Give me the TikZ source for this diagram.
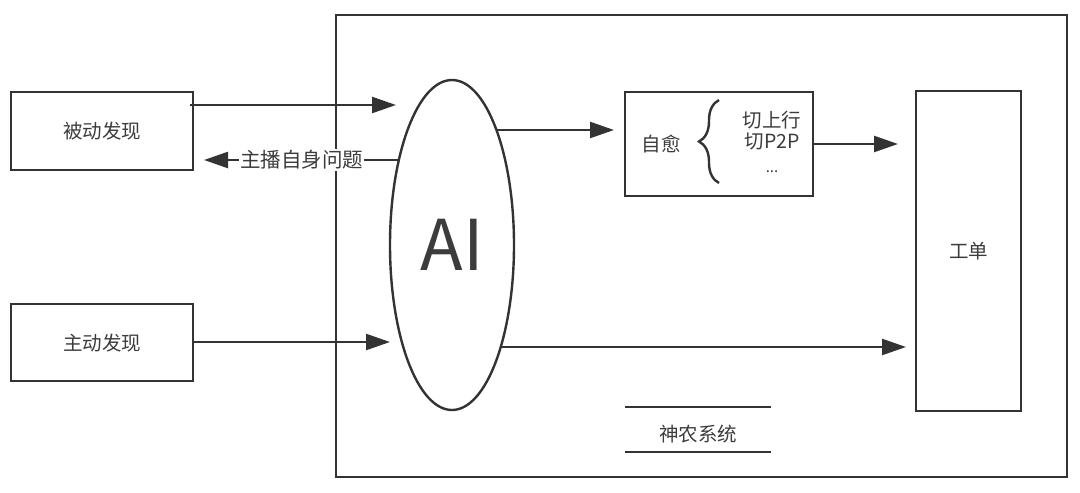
\documentclass[tikz,border=0pt]{standalone}
\usepackage{fontspec}
\setmainfont{Noto Sans CJK SC}
\usetikzlibrary{arrows.meta,decorations.pathreplacing,shapes.geometric}
\definecolor{ink}{HTML}{333333}
\definecolor{txt}{HTML}{3C3C3C}
\tikzset{
  box/.style={draw=ink,line width=2.4pt,fill=white,inner sep=0pt,text=txt,font=\fontsize{19.5}{22}\selectfont},
  arr/.style={draw=ink,line width=2.4pt,-{Triangle[length=24pt,width=16pt]}},
  lbl/.style={fill=white,text=txt,inner sep=1pt,font=\fontsize{20.5}{22}\selectfont},
  plain/.style={text=txt,font=\fontsize{19.5}{22}\selectfont},
}
\begin{document}
\begin{tikzpicture}[x=1pt,y=-1pt]
\useasboundingbox (0,0) rectangle (1080,493);
% system frame
\node[box,minimum width=731pt,minimum height=462pt,anchor=north west] (sys) at (335,14) {};
% left boxes
\node[box,minimum width=182pt,minimum height=78pt,anchor=north west] (bd) at (10,91) {被动发现};
\node[box,minimum width=182pt,minimum height=77pt,anchor=north west] (zd) at (10,303) {主动发现};
% AI ellipse
\node[box,ellipse,minimum width=124pt,minimum height=330pt,font=\fontsize{70}{72}\selectfont] (ai) at (452,245) {AI};
% self-heal box
\node[box,minimum width=188pt,minimum height=104pt,anchor=north west] (zy) at (624,91) {};
\node[plain] (zyt) at (661,144) {自愈};
\node[plain,align=center,inner sep=0pt] (zyl) at (772,131) {切上行\\[-1pt]切P2P};
\node[text=txt,font=\fontsize{15}{16}\selectfont] (dots) at (772,172) {...};
\coordinate (brb) at (719,183);
\coordinate (brt) at (719,100);
\draw[ink,line width=2.4pt,decorate,decoration={brace,amplitude=20pt,aspect=0.5}] (brb) -- (brt);
% ticket box
\node[box,minimum width=105pt,minimum height=320pt,anchor=north west] (gd) at (915,90) {工单};
% system label
\coordinate (l1a) at (625,407); \coordinate (l1b) at (771,407);
\coordinate (l2a) at (625,452); \coordinate (l2b) at (771,452);
\draw[ink,line width=2.4pt] (l1a) -- (l1b);
\draw[ink,line width=2.4pt] (l2a) -- (l2b);
\node[plain] (sn) at (698,434) {神农系统};
% arrows
\coordinate (a1s) at (190,105); \coordinate (a1e) at (396,105);
\draw[arr] (a1s) -- (a1e);
\coordinate (a2s) at (399,160); \coordinate (a2e) at (204,160);
\draw[arr] (a2s) -- node[lbl,pos=0.5] (wt) {主播自身问题} (a2e);
\coordinate (a3s) at (497,130); \coordinate (a3e) at (614,130);
\draw[arr] (a3s) -- (a3e);
\coordinate (a4s) at (812,144); \coordinate (a4e) at (898,144);
\draw[arr] (a4s) -- (a4e);
\coordinate (a5s) at (192,342); \coordinate (a5e) at (390,342);
\draw[arr] (a5s) -- (a5e);
\coordinate (a6s) at (502,347); \coordinate (a6e) at (906,347);
\draw[arr] (a6s) -- (a6e);
\end{tikzpicture}
\end{document}
